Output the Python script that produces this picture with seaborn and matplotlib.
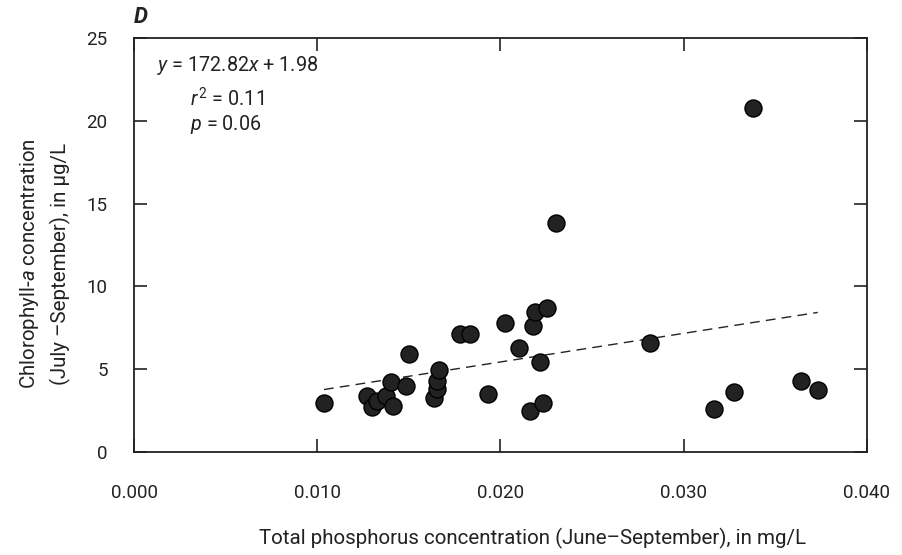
import numpy as np
import pandas as pd
import matplotlib
matplotlib.use("Agg")
import matplotlib.pyplot as plt
import seaborn as sns
from matplotlib import font_manager

# ---- data ----
tp = [0.01037, 0.01274, 0.01298, 0.01324, 0.01374, 0.01400, 0.01415, 0.01486,
      0.01501, 0.01637, 0.01652, 0.01652, 0.01663, 0.01778, 0.01832, 0.01931,
      0.02026, 0.02102, 0.02162, 0.02177, 0.02190, 0.02214, 0.02233, 0.02253,
      0.02303, 0.02814, 0.03166, 0.03274, 0.03376, 0.03641, 0.03732]
chla = [2.96, 3.36, 2.72, 3.08, 3.36, 4.23, 2.80, 3.97,
        5.94, 3.26, 3.80, 4.29, 4.97, 7.15, 7.15, 3.50,
        7.81, 6.30, 2.46, 7.61, 8.47, 5.43, 2.98, 8.72,
        13.81, 6.58, 2.62, 3.60, 20.79, 4.29, 3.72]
slope = 172.82
intercept = 1.98
x_ticks = [0.000, 0.010, 0.020, 0.030, 0.040]
x_ticklabels = ["0.000", "0.010", "0.020", "0.030", "0.040"]
y_ticks = [0, 5, 10, 15, 20, 25]
y_ticklabels = ["0", "5", "10", "15", "20", "25"]

df = pd.DataFrame({"tp": tp, "chla": chla})
fit_x = np.array([min(tp), max(tp)])
fit_df = pd.DataFrame({"tp": fit_x, "chla": slope * fit_x + intercept})

sns.set_theme(style="ticks")
names = {f.name for f in font_manager.fontManager.ttflist}
fam = "Liberation Sans Narrow" if "Liberation Sans Narrow" in names else "Roboto"
plt.rcParams["font.family"] = [fam, "DejaVu Sans"]
plt.rcParams["mathtext.fontset"] = "custom"
plt.rcParams["mathtext.rm"] = fam
plt.rcParams["mathtext.it"] = fam + ":italic"
plt.rcParams["mathtext.bf"] = fam + ":bold"

ink = "#222222"
fig = plt.figure(figsize=(9.03, 5.55), dpi=100)
ax = fig.add_axes([0.1484, 0.1856, 0.8116, 0.7459])

sns.lineplot(data=fit_df, x="tp", y="chla", ax=ax, color=ink,
             linewidth=1.0, linestyle=(0, (7, 4.5)))
sns.scatterplot(data=df, x="tp", y="chla", ax=ax, s=150, color=ink,
                edgecolor="black", linewidth=1.0, zorder=3)

ax.set_xlim(0, 0.040)
ax.set_ylim(0, 25)
ax.set_xticks(x_ticks)
ax.set_xticklabels(x_ticklabels)
ax.set_yticks(y_ticks)
ax.set_yticklabels(y_ticklabels)

for s in ax.spines.values():
    s.set_visible(True)
    s.set_linewidth(1.3)
    s.set_color(ink)

ax.tick_params(direction="in", length=9.5, width=1.2, color=ink,
               top=True, right=True, labelsize=13.5, labelcolor=ink)
ax.tick_params(axis="x", pad=23)
ax.tick_params(axis="y", pad=19)

ax.set_xlabel("Total phosphorus concentration (June\u2013September), in mg/L",
              fontsize=14.8, color=ink, labelpad=19, x=0.544)
ax.set_ylabel("Chlorophyll-$a$ concentration\n(July \u2013September), in \u00b5g/L",
              fontsize=14.8, color=ink, labelpad=11, linespacing=1.55, y=0.454)

ax.text(0.00126, 23.37, "$y$ = 172.82$x$ + 1.98", fontsize=14.2, color=ink,
        va="center", ha="left")
ax.text(0.00306, 21.3, "$r$$^{\\,2}$ = 0.11", fontsize=14.2, color=ink,
        va="center", ha="left")
ax.text(0.00306, 19.8, "$p$ = 0.06", fontsize=14.2, color=ink,
        va="center", ha="left")
ax.text(0.0, 1.025, "D", transform=ax.transAxes, fontsize=16, fontweight="bold",
        fontstyle="italic", color=ink, ha="left", va="bottom")

fig.savefig("out.png", dpi=100)
